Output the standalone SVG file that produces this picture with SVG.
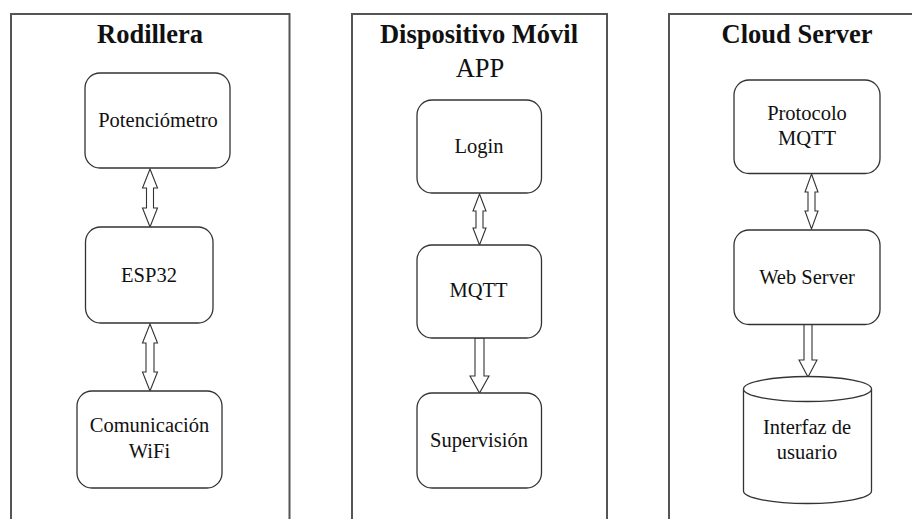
<svg xmlns="http://www.w3.org/2000/svg" width="912" height="519" viewBox="0 0 912 519">
  <style>
    .panel { fill: none; stroke: #555; stroke-width: 2; }
    .box { fill: #fff; stroke: #333; stroke-width: 1.3; }
    .arrow { fill: #fff; stroke: #333; stroke-width: 1.1; stroke-linejoin: miter; }
    .title { font-family: "Liberation Serif", "Times New Roman", serif; font-size: 26.5px; font-weight: bold; fill: #111; text-anchor: middle; }
    .sub { font-family: "Liberation Serif", "Times New Roman", serif; font-size: 26.5px; fill: #111; text-anchor: middle; }
    .label { font-family: "Liberation Serif", "Times New Roman", serif; font-size: 20.5px; fill: #111; text-anchor: middle; }
  </style>
  <rect width="912" height="519" fill="#fff"/>

  <!-- panels -->
  <g id="panel-rodillera">
    <path class="panel" d="M11,521 V14 H289.5 V521"/>
    <text class="title" x="150" y="43">Rodillera</text>
  </g>
  <g id="panel-movil">
    <path class="panel" d="M352,521 V14 H607 V521"/>
    <text class="title" x="479" y="43">Dispositivo Móvil</text>
    <text class="sub" x="480" y="77">APP</text>
  </g>
  <g id="panel-cloud">
    <path class="panel" d="M669,521 V14 H914"/>
    <text class="title" x="797" y="43">Cloud Server</text>
  </g>

  <!-- connectors -->
  <g id="connectors">
    <path class="arrow" d="M150,169 L157.5,188 L153.5,188 L153.5,208 L157.5,208 L150,227 L142.5,208 L146.5,208 L146.5,188 L142.5,188 Z"/>
    <path class="arrow" d="M150,324 L157.5,343 L154,343 L154,372 L157.5,372 L150,391 L142.5,372 L146,372 L146,343 L142.5,343 Z"/>
    <path class="arrow" d="M479.5,194 L486,211 L483,211 L483,228 L486,228 L479.5,245 L473,228 L476,228 L476,211 L473,211 Z"/>
    <path class="arrow" d="M475,338 L484,338 L484,376 L489,376 L479.5,393 L470,376 L475,376 Z"/>
    <path class="arrow" d="M811.5,174 L818,192 L815,192 L815,211 L818,211 L811.5,229 L805,211 L808,211 L808,192 L805,192 Z"/>
    <path class="arrow" d="M804,324 L812,324 L812,360 L817,360 L808,377 L799,360 L804,360 Z"/>
  </g>

  <!-- Rodillera nodes -->
  <g id="potenciometro">
    <rect class="box" x="85" y="73" width="145" height="95" rx="15"/>
    <text class="label" x="158" y="127">Potenciómetro</text>
  </g>
  <g id="esp32">
    <rect class="box" x="85.5" y="227" width="127.5" height="96" rx="15"/>
    <text class="label" x="149" y="282">ESP32</text>
  </g>
  <g id="comunicacion-wifi">
    <rect class="box" x="77" y="391" width="145" height="97" rx="15"/>
    <text class="label" x="149.5" y="432">Comunicación</text>
    <text class="label" x="149.5" y="458">WiFi</text>
  </g>

  <!-- Dispositivo Móvil nodes -->
  <g id="login">
    <rect class="box" x="417" y="100" width="124.5" height="93" rx="15"/>
    <text class="label" x="479" y="153">Login</text>
  </g>
  <g id="mqtt">
    <rect class="box" x="417" y="245" width="124.5" height="93" rx="15"/>
    <text class="label" x="478.5" y="297">MQTT</text>
  </g>
  <g id="supervision">
    <rect class="box" x="417" y="393" width="124.5" height="95" rx="15"/>
    <text class="label" x="479" y="447">Supervisión</text>
  </g>

  <!-- Cloud Server nodes -->
  <g id="protocolo-mqtt">
    <rect class="box" x="734" y="80" width="146" height="93.5" rx="15"/>
    <text class="label" x="807" y="119.5">Protocolo</text>
    <text class="label" x="807" y="145">MQTT</text>
  </g>
  <g id="web-server">
    <rect class="box" x="734" y="230" width="146" height="94.5" rx="15"/>
    <text class="label" x="807" y="283.5">Web Server</text>
  </g>
  <g id="interfaz-usuario">
    <path class="box" d="M743.5,389 A64,12.5 0 0 1 871.5,389 V491 A64,12.5 0 0 1 743.5,491 Z"/>
    <path class="box" fill="none" d="M743.5,389 A64,12.5 0 0 0 871.5,389"/>
    <text class="label" x="807" y="433.5">Interfaz de</text>
    <text class="label" x="807" y="459">usuario</text>
  </g>
</svg>
